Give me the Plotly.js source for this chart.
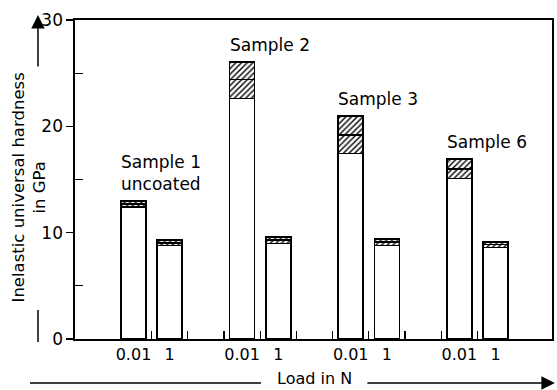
<!DOCTYPE html>
<html>
<head>
<meta charset="utf-8">
<script src="https://cdn.plot.ly/plotly-3.0.1.min.js"></script>
<style>html,body{margin:0;padding:0;background:#fff;}#chart{width:557px;height:390px;}</style>
</head>
<body>
<div id="chart"></div>
<script>
// Data
const loadLabels = ['0.01', '1', '0.01', '1', '0.01', '1', '0.01', '1'];
const slotPositions = [0, 1, 3, 4, 6, 7, 9, 10];
const lowVals  = [12.4, 8.8, 22.6, 9.0, 17.45, 8.8, 15.1, 8.6];
const meanVals = [12.7, 9.05, 24.4, 9.3, 19.2, 9.1, 16.0, 8.9];
const highVals = [13.0, 9.3, 26.05, 9.6, 20.95, 9.4, 16.95, 9.15];
const sampleNames = ['Sample 1<br>uncoated', 'Sample 2', 'Sample 3', 'Sample 6'];
const sampleBarIndex = [0, 2, 4, 6];
const yTickVals = [0, 10, 20, 30];
const xTickMarks = [0.5, 1.5, 2.5, 3.5, 4.5, 5.5, 6.5, 7.5, 8.5, 9.5];

const FONT = 'DejaVu Sans, sans-serif';
const BW = 0.69;
const lineStyle = {color: '#000', width: 1.6};
const hatch = {shape: '/', fgcolor: '#000', bgcolor: '#fff', size: 4, solidity: 0.35};

const traces = [
  {type: 'bar', x: slotPositions, y: lowVals, width: BW,
   marker: {color: '#fff', line: lineStyle}, hoverinfo: 'skip', showlegend: false},
  {type: 'bar', x: slotPositions, y: meanVals.map((m, i) => m - lowVals[i]), width: BW,
   marker: {color: '#fff', pattern: hatch, line: lineStyle}, hoverinfo: 'skip', showlegend: false},
  {type: 'bar', x: slotPositions, y: highVals.map((h, i) => h - meanVals[i]), width: BW,
   marker: {color: '#fff', pattern: hatch, line: lineStyle}, hoverinfo: 'skip', showlegend: false},
  // invisible trace on overlay axis for inside tick marks
  {type: 'scatter', x: xTickMarks, y: xTickMarks.map(() => 0), xaxis: 'x2', mode: 'none',
   hoverinfo: 'skip', showlegend: false}
];

const annotations = sampleNames.map((name, k) => ({
  x: slotPositions[sampleBarIndex[k]] - BW / 2, y: highVals[sampleBarIndex[k]],
  xref: 'x', yref: 'y', xanchor: 'left', yanchor: 'bottom', align: 'left',
  xshift: -2, yshift: 5, showarrow: false, text: name,
  font: {family: FONT, size: 17, color: '#000'}
}));

annotations.push(
  {xref: 'paper', yref: 'paper', x: 0, y: 0.475, xshift: -46, xanchor: 'center', yanchor: 'middle',
   textangle: -90, showarrow: false, align: 'center',
   text: 'Inelastic universal hardness<br>in GPa',
   font: {family: FONT, size: 16.5, color: '#000'}},
  {xref: 'paper', yref: 'paper', x: -0.0776, y: 1.0157, ax: 0, ay: 53, axref: 'pixel', ayref: 'pixel',
   showarrow: true, arrowhead: 2, arrowsize: 1.8, arrowwidth: 1.5, arrowcolor: '#000', text: ''},
  {xref: 'paper', yref: 'paper', x: 0.503, y: -0.125, xanchor: 'center', yanchor: 'middle',
   showarrow: false, text: 'Load in N', borderpad: 0, font: {family: FONT, size: 16, color: '#000'}},
  {xref: 'paper', yref: 'paper', x: 1.006, y: -0.138, ax: -189, ay: 0, axref: 'pixel', ayref: 'pixel',
   showarrow: true, arrowhead: 2, arrowsize: 1.8, arrowwidth: 1.5, arrowcolor: '#000', text: ''}
);

const shapes = [
  {type: 'line', xref: 'paper', yref: 'paper', x0: -0.0776, x1: -0.0776, y0: -0.0094, y1: 0.0909,
   line: {color: '#000', width: 1.5}},
  {type: 'line', xref: 'paper', yref: 'paper', x0: -0.0943, x1: 0.39, y0: -0.138, y1: -0.138,
   line: {color: '#000', width: 1.5}}
];

const layout = {
  width: 557, height: 390,
  margin: {l: 75, r: 5, t: 20, b: 51},
  paper_bgcolor: '#fff', plot_bgcolor: '#fff',
  barmode: 'stack',
  font: {family: FONT, size: 16, color: '#000'},
  xaxis: {range: [-1.616, 11.56], tickvals: slotPositions, ticktext: loadLabels,
          ticks: '', showgrid: false, zeroline: false, showline: true, mirror: true,
          linecolor: '#000', linewidth: 1.6, tickfont: {family: FONT, size: 16, color: '#000'},
          fixedrange: true},
  xaxis2: {overlaying: 'x', matches: 'x', tickvals: xTickMarks, ticks: 'inside', ticklen: 8,
           tickwidth: 1.3, tickcolor: '#000', showticklabels: false, showgrid: false,
           zeroline: false, showline: false},
  yaxis: {range: [0, 30], tickvals: yTickVals, ticks: 'outside', ticklen: 7, tickwidth: 1.5,
          tickcolor: '#000', showgrid: false, zeroline: false, showline: true, mirror: true,
          linecolor: '#000', linewidth: 1.6, tickfont: {family: FONT, size: 17, color: '#000'},
          minor: {tickvals: [5, 15, 25], ticks: 'inside', ticklen: 8, tickwidth: 1.3, tickcolor: '#000'},
          fixedrange: true},
  annotations: annotations,
  shapes: shapes,
  showlegend: false
};

Plotly.newPlot('chart', traces, layout, {staticPlot: true, displayModeBar: false});
</script>
</body>
</html>
